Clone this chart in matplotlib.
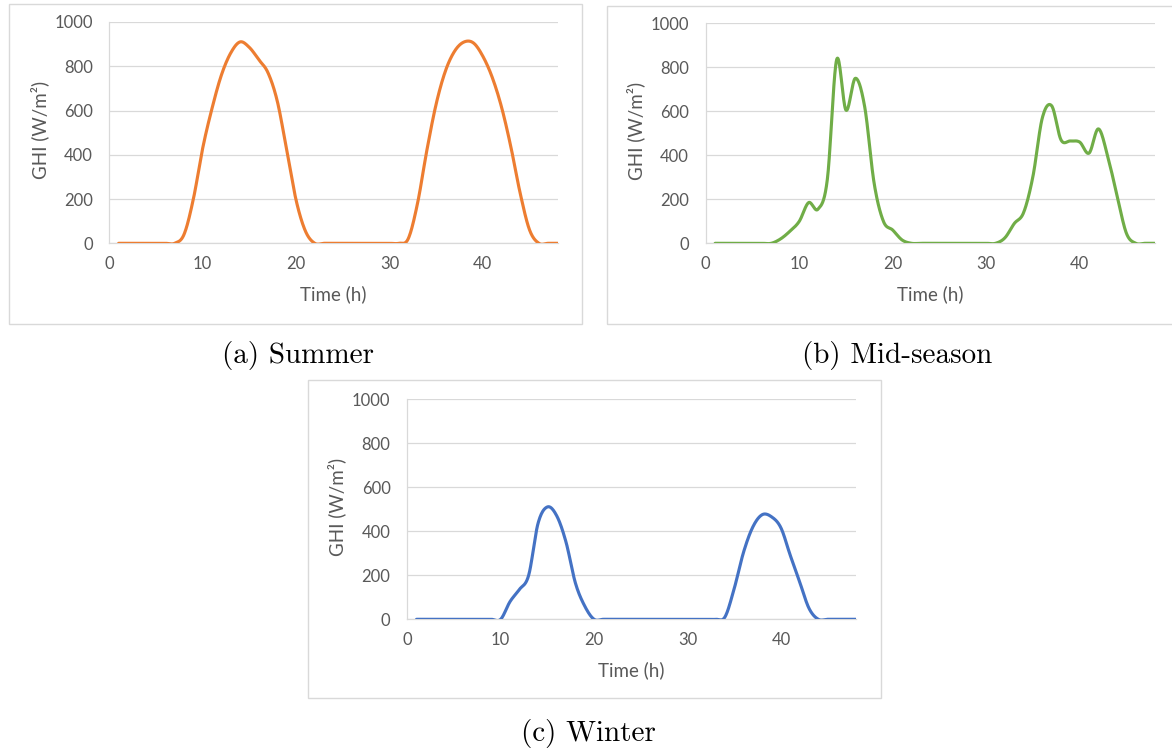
"""
GHI profiles for summer, mid-season and winter (two days, hourly).
"""

import numpy as np
import matplotlib
matplotlib.use('Agg')
import matplotlib.pyplot as plt
from matplotlib.patches import Rectangle

# hourly values (hours 1..48)
hours = list(range(1, 49))

ghi_summer = [0, 0, 0, 0, 0, 0, 0, 40, 200, 430, 610, 760, 860, 910, 885, 830,
              770, 640, 420, 195, 55, 0, 0, 0, 0, 0, 0, 0, 0, 0, 0, 20,
              180, 420, 630, 780, 870, 910, 905, 845, 750, 615, 435, 225, 60, 0, 0, 0]

ghi_midseason = [0, 0, 0, 0, 0, 0, 0, 20, 55, 100, 185, 155, 290, 835, 605, 750,
                 620, 275, 100, 60, 15, 0, 0, 0, 0, 0, 0, 0, 0, 0, 0, 25,
                 90, 140, 305, 570, 625, 470, 465, 460, 410, 520, 395, 215, 45, 0, 0, 0]

ghi_winter = [0, 0, 0, 0, 0, 0, 0, 0, 0, 0, 80, 135, 200, 435, 510, 470,
              350, 165, 60, 0, 0, 0, 0, 0, 0, 0, 0, 0, 0, 0, 0, 0,
              0, 10, 140, 305, 420, 475, 465, 415, 290, 170, 50, 0, 0, 0, 0, 0]

captions = ['(a) Summer', '(b) Mid-season', '(c) Winter']
colors = ['#ED7D31', '#70AD47', '#4472C4']

GRID = '#D9D9D9'
TEXT = '#595959'
W, H = 1172, 751


def smooth(x, y, n=20):
    """Excel-like smoothed line (Catmull-Rom / Bezier through the points)."""
    x = np.asarray(x, float)
    y = np.asarray(y, float)
    px = np.concatenate([[x[0]], x, [x[-1]]])
    py = np.concatenate([[y[0]], y, [y[-1]]])
    xs, ys = [], []
    t = np.linspace(0, 1, n, endpoint=False)
    for i in range(1, len(px) - 2):
        p0x, p1x, p2x, p3x = px[i - 1], px[i], px[i + 1], px[i + 2]
        p0y, p1y, p2y, p3y = py[i - 1], py[i], py[i + 1], py[i + 2]
        c1x, c1y = p1x + (p2x - p0x) / 6, p1y + (p2y - p0y) / 6
        c2x, c2y = p2x - (p3x - p1x) / 6, p2y - (p3y - p1y) / 6
        b0, b1, b2, b3 = (1 - t) ** 3, 3 * t * (1 - t) ** 2, 3 * t ** 2 * (1 - t), t ** 3
        xs.append(b0 * p1x + b1 * c1x + b2 * c2x + b3 * p2x)
        ys.append(b0 * p1y + b1 * c1y + b2 * c2y + b3 * p2y)
    xs.append([x[-1]])
    ys.append([y[-1]])
    return np.concatenate(xs), np.concatenate(ys)


def px_axes(fig, left, top, right, bottom):
    return fig.add_axes([left / W, 1 - bottom / H, (right - left) / W, (bottom - top) / H])


def px_box(fig, left, top, right, bottom):
    fig.patches.append(Rectangle((left / W, 1 - bottom / H), (right - left) / W, (bottom - top) / H,
                                 transform=fig.transFigure, fill=False,
                                 edgecolor=GRID, linewidth=1.0))


fig = plt.figure(figsize=(W / 100, H / 100), dpi=100)

# frames around each Excel chart
px_box(fig, 9, 3.5, 581.5, 324)
px_box(fig, 606.5, 5.5, 1180, 324)
px_box(fig, 307.5, 380, 880.5, 698)

axes = [
    px_axes(fig, 109.3, 22, 557.6, 243.3),
    px_axes(fig, 705.8, 23.3, 1154.5, 243.3),
    px_axes(fig, 407.2, 399, 855.7, 619.3),
]
series = [ghi_summer, ghi_midseason, ghi_winter]

for ax, vals, col in zip(axes, series, colors):
    sx, sy = smooth(hours, vals)
    ax.plot(sx, sy, color=col, linewidth=2.25, solid_capstyle='round', zorder=3)
    ax.set_xlim(0, 48)
    ax.set_ylim(0, 1000)
    ax.set_xticks([0, 10, 20, 30, 40])
    ax.set_yticks(range(0, 1001, 200))
    ax.grid(axis='y', color=GRID, linewidth=0.9)
    ax.set_axisbelow(True)
    for s in ['top', 'right']:
        ax.spines[s].set_visible(False)
    ax.spines['left'].set_color(GRID)
    ax.spines['bottom'].set_color(GRID)
    ax.spines['left'].set_linewidth(0.9)
    ax.spines['bottom'].set_linewidth(0.9)
    ax.tick_params(length=0, labelcolor=TEXT, labelsize=12)
    ax.tick_params(axis='y', pad=12)
    ax.tick_params(axis='x', pad=9)
    for lab in ax.get_xticklabels() + ax.get_yticklabels():
        lab.set_fontfamily('Lato')
    ax.set_xlabel('Time (h)', fontsize=13.5, color=TEXT, fontfamily='Lato')
    ax.set_ylabel('GHI (W/m²)', fontsize=13.5, color=TEXT, fontfamily='Lato')
    ax.xaxis.set_label_coords(0.5, -0.19)
    ax.yaxis.set_label_coords(-0.135, 0.51)
    ax.patch.set_alpha(0)

# LaTeX-style sub-captions
fig.text(298 / W, 1 - 355.5 / H, captions[0], family='cmr10', fontsize=21, ha='center', va='center')
fig.text(897 / W, 1 - 355.5 / H, captions[1], family='cmr10', fontsize=21, ha='center', va='center')
fig.text(588 / W, 1 - 734 / H, captions[2], family='cmr10', fontsize=21, ha='center', va='center')

fig.savefig('out.png', dpi=100)
